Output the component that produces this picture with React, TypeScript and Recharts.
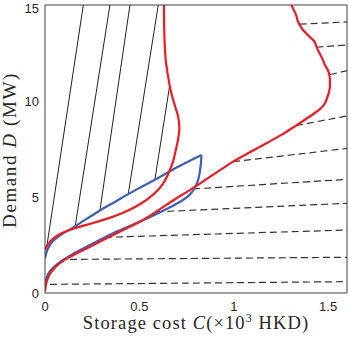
import React from "react";
import { LineChart, Line, XAxis, YAxis, Label } from "recharts";

type Pt = [number, number];

const xTicks = [0, 0.5, 1, 1.5];
const yTicks = [0, 5, 10, 15];

// red boundary starting at D ~ 2.2 (bends back near C ~ 0.7)
const redUpper: Pt[] = [
  [0, 2.24], [0.02, 2.6], [0.05, 2.88], [0.09, 3.12], [0.15, 3.35], [0.238, 3.6],
  [0.326, 3.86], [0.414, 4.18], [0.503, 4.62], [0.573, 5.12], [0.626, 5.7], [0.655, 6.25],
  [0.677, 6.8], [0.693, 7.45], [0.705, 8.0], [0.712, 8.6], [0.705, 9.2], [0.69, 9.7],
  [0.672, 10.3], [0.66, 10.83], [0.65, 11.4], [0.64, 12.1], [0.634, 13.0], [0.631, 14.0], [0.63, 15],
];

// red boundary starting near the origin, reaching out to C ~ 1.5
const redLower: Pt[] = [
  [0, 0.1], [0.008, 0.55], [0.026, 1.0], [0.06, 1.4], [0.1, 1.7], [0.15, 1.97], [0.238, 2.41],
  [0.326, 2.85], [0.414, 3.28], [0.503, 3.71], [0.591, 4.25], [0.679, 4.82], [0.767, 5.36],
  [0.82, 5.7], [0.873, 6.05], [0.943, 6.5], [0.996, 6.84], [1.085, 7.33], [1.173, 7.8],
  [1.25, 8.22], [1.33, 8.72], [1.4, 9.18], [1.45, 9.52], [1.478, 9.8], [1.496, 10.2],
  [1.507, 10.57], [1.51, 10.9], [1.508, 11.27], [1.499, 11.6], [1.483, 11.88], [1.472, 12.14],
  [1.455, 12.48], [1.438, 12.83], [1.428, 13.09], [1.402, 13.35], [1.367, 13.7], [1.342, 14.1],
  [1.33, 14.48], [1.305, 15],
];

// blue loop, split at its tip
const blueUpper: Pt[] = [
  [0, 1.8], [0.015, 2.3], [0.04, 2.68], [0.08, 3.0], [0.15, 3.42], [0.22, 3.86], [0.291, 4.3],
  [0.37, 4.74], [0.441, 5.15], [0.51, 5.52], [0.582, 5.9], [0.7, 6.55], [0.829, 7.19],
];
const blueLower: Pt[] = [
  [0, 0.3], [0.006, 0.7], [0.02, 1.05], [0.044, 1.32], [0.09, 1.68], [0.15, 2.05], [0.238, 2.5],
  [0.31, 2.86], [0.379, 3.2], [0.44, 3.45], [0.503, 3.72], [0.591, 4.12], [0.66, 4.45],
  [0.72, 4.78], [0.765, 5.1], [0.792, 5.45], [0.81, 5.85], [0.82, 6.3], [0.826, 6.75], [0.829, 7.19],
];

const solidLines: Pt[][] = [
  [[0.01, 2.45], [0.203, 15]],
  [[0.16, 3.48], [0.344, 15]],
  [[0.291, 4.3], [0.45, 15]],
  [[0.441, 5.15], [0.6, 15]],
  [[0.582, 5.9], [0.661, 10.83]],
];

const dashedLines: Pt[][] = [
  [[1.349, 14.0], [1.6, 14.12]],
  [[1.437, 12.8], [1.6, 12.92]],
  [[1.51, 11.38], [1.6, 11.58]],
  [[1.33, 8.72], [1.6, 9.22]],
  [[0.996, 6.84], [1.6, 7.53]],
  [[0.785, 5.42], [1.6, 5.92]],
  [[0.59, 4.23], [1.6, 4.67]],
  [[0.317, 2.9], [1.6, 3.28]],
  [[0.132, 1.75], [1.6, 1.86]],
  [[0.026, 0.45], [1.6, 0.59]],
];

const RED = "#ec1c24";
const BLUE = "#3f5fb4";
const AXIS = "#404040";
const TEXT = "#262626";

const rows = (pts: Pt[]) => pts.map(([x, y]) => ({ x, y }));

function curve(key: string, pts: Pt[], stroke: string, width: number, type: any, dash?: string) {
  return (
    <Line
      key={key}
      data={rows(pts)}
      dataKey="y"
      type={type}
      stroke={stroke}
      strokeWidth={width}
      strokeDasharray={dash}
      dot={false}
      activeDot={false}
      legendType="none"
      isAnimationActive={false}
    />
  );
}

function XTitle(props: any) {
  const vb = props.viewBox || { x: 45, y: 293, width: 302, height: 47 };
  return (
    <text x={vb.x + vb.width / 2} y={vb.y + 36} textAnchor="middle" fontFamily="Liberation Serif" fontSize={18.5} letterSpacing={1.1} fill={TEXT}>
      Storage cost <tspan fontStyle="italic">C</tspan>(×10<tspan dy={-7} fontSize={12}>3</tspan>
      <tspan dy={7}> HKD)</tspan>
    </text>
  );
}

function YTitle(props: any) {
  const vb = props.viewBox || { x: 0, y: 5, width: 45, height: 288 };
  const bx = vb.x + 16;
  const cy = vb.y + vb.height / 2 + 1;
  return (
    <text x={bx} y={cy} transform={`rotate(-90 ${bx} ${cy})`} textAnchor="middle" fontFamily="Liberation Serif" fontSize={19} letterSpacing={1.6} fill={TEXT}>
      Demand <tspan fontStyle="italic">D</tspan> (MW)
    </text>
  );
}

const tickFont = { fontSize: 13, fill: TEXT, fontFamily: "Liberation Sans, Arial, sans-serif" };

export default function App() {
  return (
    <div style={{ position: "absolute", left: 0, top: 0, background: "#fff" }}>
      <LineChart width={349} height={340} margin={{ top: 5, right: 2, bottom: 0, left: 0 }}>
        <XAxis dataKey="x" type="number" domain={[0, 1.6]} ticks={xTicks} allowDataOverflow height={47}
          tickLine={false} axisLine={false} tickSize={0} tickMargin={9} tick={tickFont}>
          <Label content={XTitle} />
        </XAxis>
        <YAxis dataKey="y" type="number" domain={[0, 15]} ticks={yTicks} allowDataOverflow width={45}
          tickLine={false} axisLine={false} tickSize={0} tickMargin={6} tick={tickFont}>
          <Label content={YTitle} />
        </YAxis>
        <XAxis xAxisId="bottomTicks" dataKey="x" type="number" domain={[0, 1.6]} ticks={xTicks} allowDataOverflow
          mirror tick={false} tickSize={4} stroke={AXIS} />
        <XAxis xAxisId="topTicks" orientation="top" dataKey="x" type="number" domain={[0, 1.6]} ticks={xTicks} allowDataOverflow
          mirror tick={false} tickSize={4} stroke={AXIS} />
        <YAxis yAxisId="leftTicks" dataKey="y" type="number" domain={[0, 15]} ticks={yTicks} allowDataOverflow
          mirror tick={false} tickSize={4} stroke={AXIS} />
        <YAxis yAxisId="rightTicks" orientation="right" dataKey="y" type="number" domain={[0, 15]} ticks={yTicks} allowDataOverflow
          mirror tick={false} tickSize={4} stroke={AXIS} />
        {solidLines.map((seg, i) => curve(`s${i}`, seg, "#222", 1, "linear"))}
        {dashedLines.map((seg, i) => curve(`d${i}`, seg, "#333", 1.2, "linear", "7 4"))}
        {curve("bu", blueUpper, BLUE, 2.2, "monotoneY")}
        {curve("bl", blueLower, BLUE, 2.2, "monotoneY")}
        {curve("ru", redUpper, RED, 2.2, "monotoneY")}
        {curve("rl", redLower, RED, 2.2, "monotoneY")}
      </LineChart>
    </div>
  );
}
